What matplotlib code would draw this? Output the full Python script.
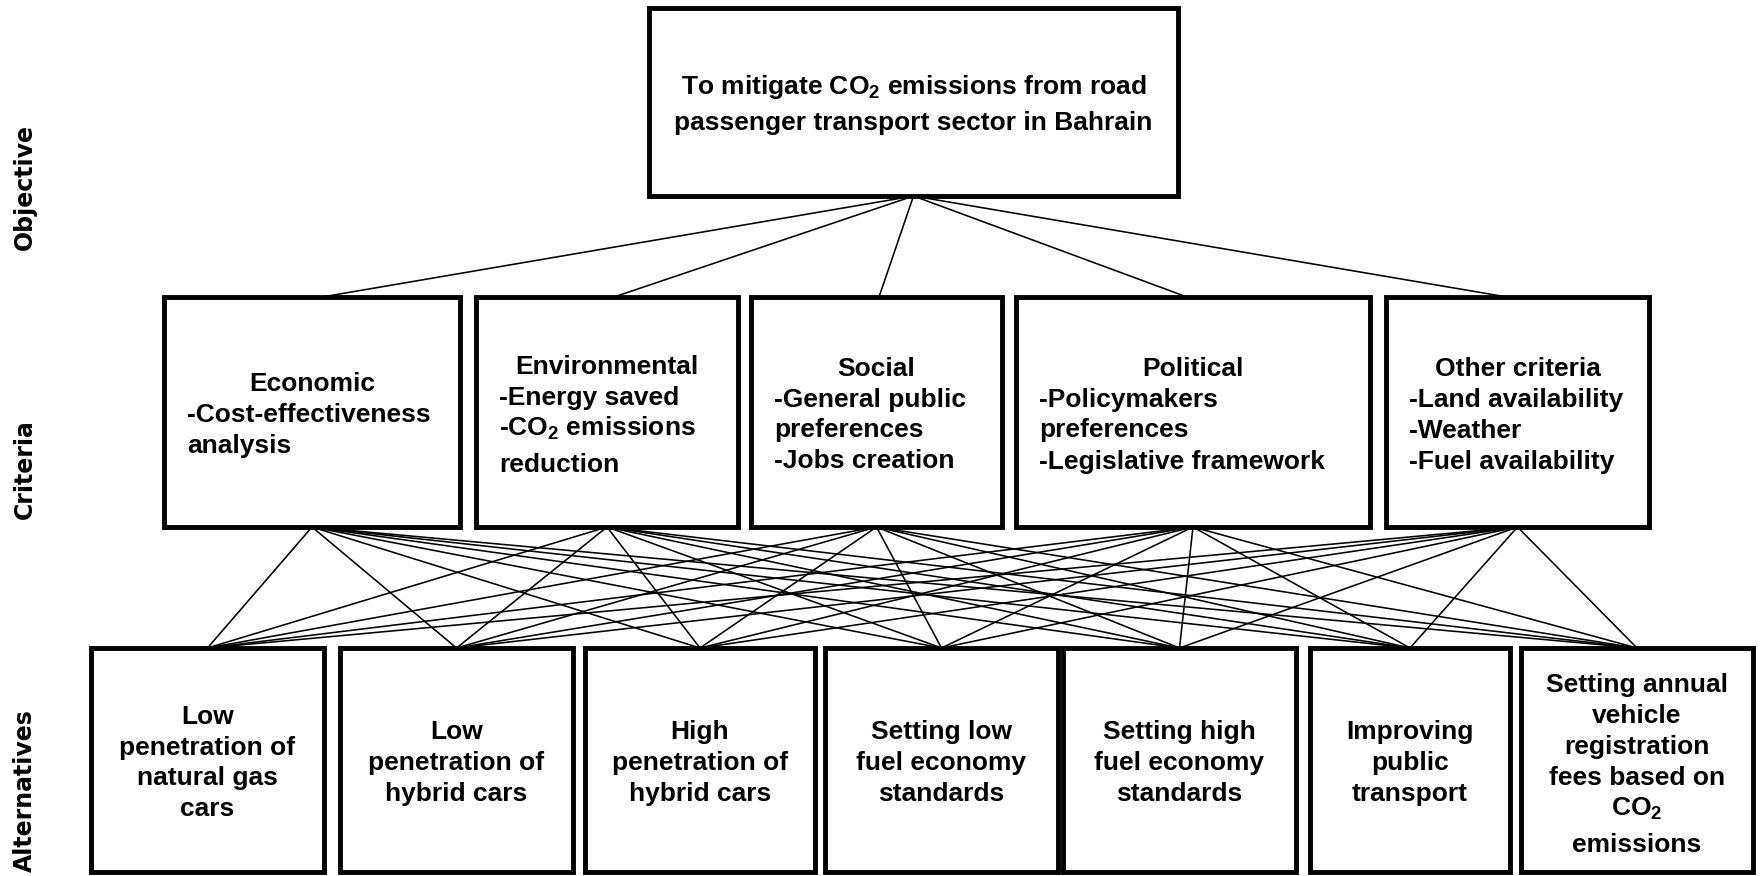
import matplotlib.pyplot as plt
from matplotlib.patches import Rectangle

plt.rcParams["mathtext.fontset"] = "custom"
plt.rcParams["mathtext.rm"] = "Liberation Sans:bold"
plt.rcParams["mathtext.bf"] = "Liberation Sans:bold"
plt.rcParams["mathtext.it"] = "Liberation Sans:bold:italic"
plt.rcParams["mathtext.default"] = "rm"

# --- content ---
levels = ["Objective", "Criteria", "Alternatives"]
objective = ["To mitigate CO$_2$ emissions from road",
             "passenger transport sector in Bahrain"]
criteria = ["Economic", "Environmental", "Social", "Political", "Other criteria"]
criteria_items = [
    ["-Cost-effectiveness", "analysis"],
    ["-Energy saved", "-CO$_2$ emissions", "reduction"],
    ["-General public", "preferences", "-Jobs creation"],
    ["-Policymakers", "preferences", "-Legislative framework"],
    ["-Land availability", "-Weather", "-Fuel availability"],
]
alternatives = [
    ["Low", "penetration of", "natural gas", "cars"],
    ["Low", "penetration of", "hybrid cars"],
    ["High", "penetration of", "hybrid cars"],
    ["Setting low", "fuel economy", "standards"],
    ["Setting high", "fuel economy", "standards"],
    ["Improving", "public", "transport"],
    ["Setting annual", "vehicle", "registration", "fees based on", "CO$_2$", "emissions"],
]

# --- layout (pixels, y downwards) ---
W, H = 1760, 876
obj_box = (649, 8, 1178, 196)
crit_x = [(164, 460), (476, 738), (751, 1002), (1016, 1370), (1386, 1649)]
crit_top_anchor = [322, 614, 879, 1187, 1507]
crit_y = (297, 527)
alt_x = [(91, 324), (340, 573), (585, 815), (825, 1058), (1063, 1296),
         (1310, 1510), (1521, 1753)]
alt_y = (648, 872)
level_y = [187, 469, 791]
FS = 19
GAP = 31
BOX_LW = 3.5
LINK_LW = 1.15


def baselines(lines, center):
    b = [0.0]
    for i in range(1, len(lines)):
        extra = 5 if "$" in lines[i - 1] else 0
        b.append(b[-1] + GAP + extra)
    shift = center + 10 - sum(b) / len(b)
    return [v + shift for v in b]


def box(ax, x0, y0, x1, y1):
    ax.add_patch(Rectangle((x0, y0), x1 - x0, y1 - y0, facecolor="white",
                           edgecolor="black", lw=BOX_LW, zorder=3))


def text(ax, x, y, s, ha="center"):
    ax.text(x, y, s, ha=ha, va="baseline", fontsize=FS, fontweight="bold",
            family="Liberation Sans", zorder=4)


fig = plt.figure(figsize=(W / 100, H / 100), dpi=100)
ax = fig.add_axes([0, 0, 1, 1])
ax.set_xlim(0, W)
ax.set_ylim(H, 0)
ax.axis("off")

# links
ox = (obj_box[0] + obj_box[2]) / 2
for tx in crit_top_anchor:
    ax.plot([ox, tx], [obj_box[3], crit_y[0]], color="black",
            lw=LINK_LW, zorder=1)
for cx0, cx1 in crit_x:
    for ax0, ax1 in alt_x:
        ax.plot([(cx0 + cx1) / 2, (ax0 + ax1) / 2], [crit_y[1], alt_y[0]],
                color="black", lw=LINK_LW, zorder=1)

# objective
box(ax, *obj_box)
for y, s in zip(baselines(objective, (obj_box[1] + obj_box[3]) / 2), objective):
    text(ax, ox, y, s)

# criteria
cy = (crit_y[0] + crit_y[1]) / 2
for (x0, x1), head, items in zip(crit_x, criteria, criteria_items):
    box(ax, x0, crit_y[0], x1, crit_y[1])
    lines = [head] + items
    ys = baselines(lines, cy)
    text(ax, (x0 + x1) / 2, ys[0], head)
    for y, s in zip(ys[1:], items):
        text(ax, x0 + 23, y, s, ha="left")

# alternatives
ay = (alt_y[0] + alt_y[1]) / 2
for (x0, x1), lines in zip(alt_x, alternatives):
    box(ax, x0, alt_y[0], x1, alt_y[1])
    for y, s in zip(baselines(lines, ay), lines):
        text(ax, (x0 + x1) / 2, y, s)

# level labels
for y, s in zip(level_y, levels):
    ax.text(25, y, s, rotation=90, ha="center", va="center", fontsize=17,
            fontweight="bold", family="DejaVu Sans")

fig.savefig("out.png", dpi=100, facecolor="white")
